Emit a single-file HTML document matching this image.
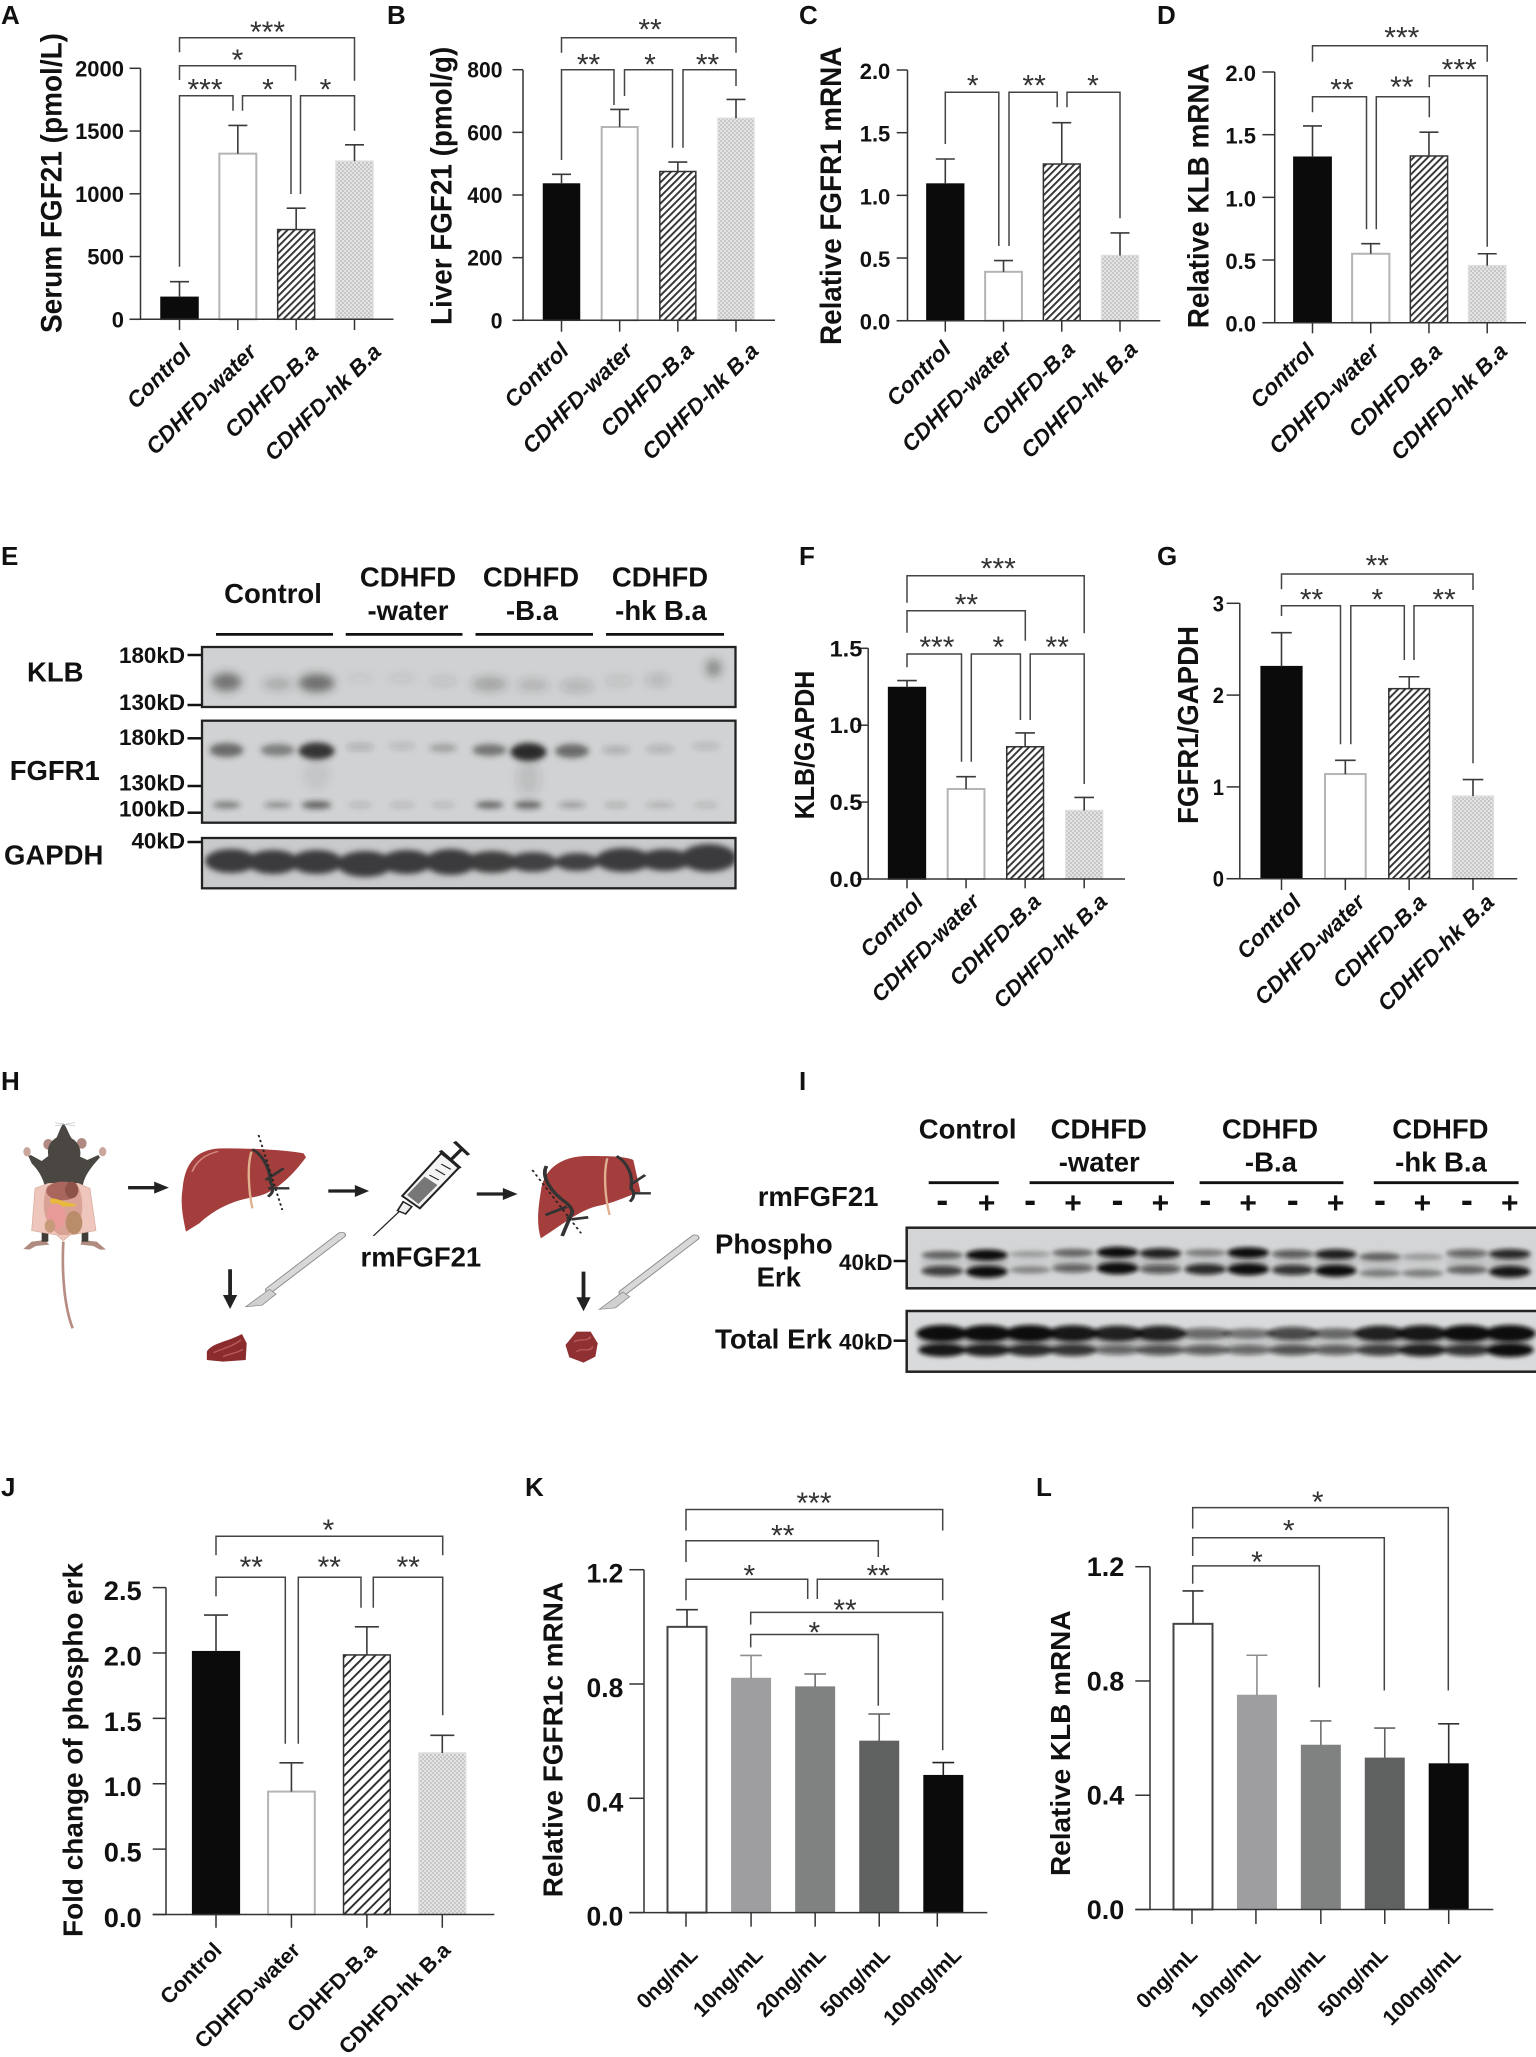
<!DOCTYPE html>
<html lang="en">
<head>
<meta charset="utf-8">
<title>FGF21 figure panels A-L</title>
<style>
html,body{margin:0;padding:0;background:#fff}
svg{display:block}
text{font-family:"Liberation Sans",Arial,sans-serif;fill:#111}
.b{font-weight:bold}
</style>
</head>
<body>
<svg id="figure" xmlns="http://www.w3.org/2000/svg" width="1536" height="2057" viewBox="0 0 1536 2057">
<defs>
<pattern id="hatch" patternUnits="userSpaceOnUse" width="5" height="5" patternTransform="rotate(-45)"><rect width="5" height="5" fill="#fff"/><rect width="5" height="1.9" fill="#333"/></pattern>
<pattern id="hatchWide" patternUnits="userSpaceOnUse" width="7" height="7" patternTransform="rotate(-45)"><rect width="7" height="7" fill="#fff"/><rect width="7" height="1.9" fill="#2a2a2a"/></pattern>
<pattern id="check" patternUnits="userSpaceOnUse" width="4" height="4"><rect width="4" height="4" fill="#e4e4e4"/><rect width="2" height="2" fill="#c6c6c6"/><rect x="2" y="2" width="2" height="2" fill="#c6c6c6"/></pattern>
<filter id="blurKlb" x="-5%" y="-60%" width="110%" height="220%"><feGaussianBlur stdDeviation="4.5"/></filter>
<filter id="blur" x="-5%" y="-60%" width="110%" height="220%"><feGaussianBlur stdDeviation="3"/></filter>
<filter id="blurSoft" x="-5%" y="-60%" width="110%" height="220%"><feGaussianBlur stdDeviation="2.2"/></filter>
<filter id="blurGapdh" x="-5%" y="-60%" width="110%" height="220%"><feGaussianBlur stdDeviation="2.8"/></filter>
<clipPath id="clipKlb"><rect x="202" y="647" width="533.5" height="60"/></clipPath>
<clipPath id="clipFgfr"><rect x="202" y="720.7" width="533.5" height="102"/></clipPath>
<clipPath id="clipGapdh"><rect x="202" y="838" width="533.5" height="50.3"/></clipPath>
<clipPath id="clipPerk"><rect x="906.7" y="1227.7" width="631.8" height="60.6"/></clipPath>
<clipPath id="clipTerk"><rect x="906.7" y="1311" width="631.8" height="60.7"/></clipPath>
</defs>

<g font-size="26">
<text class="b" x="1" y="24">A</text>
<text class="b" x="387" y="24">B</text>
<text class="b" x="799" y="24">C</text>
<text class="b" x="1157" y="24">D</text>
<text class="b" x="1" y="565">E</text>
<text class="b" x="799" y="565">F</text>
<text class="b" x="1157" y="565">G</text>
<text class="b" x="1" y="1090">H</text>
<text class="b" x="799" y="1090">I</text>
<text class="b" x="1" y="1496">J</text>
<text class="b" x="525" y="1496">K</text>
<text class="b" x="1036" y="1496">L</text>
</g>

<!-- Panel E western blot -->
<g id="panelE">
<g font-size="27.5" text-anchor="middle">
<text class="b" x="273" y="603">Control</text>
<text class="b" x="408" y="586.5">CDHFD</text>
<text class="b" x="408" y="620">-water</text>
<text class="b" x="531" y="586.5">CDHFD</text>
<text class="b" x="532" y="620">-B.a</text>
<text class="b" x="660" y="586.5">CDHFD</text>
<text class="b" x="661" y="620">-hk B.a</text>
</g>
<g stroke="#111" stroke-width="2.8">
<line x1="216" x2="333" y1="634.4" y2="634.4"/><line x1="345.7" x2="462.5" y1="634.4" y2="634.4"/><line x1="475.5" x2="593" y1="634.4" y2="634.4"/><line x1="606" x2="724" y1="634.4" y2="634.4"/>
</g>
<rect x="202" y="647" width="533.5" height="60" fill="#d0d1d2"/>
<g id="klbBands" clip-path="url(#clipKlb)"></g>
<rect x="202" y="647" width="533.5" height="60" fill="none" stroke="#222" stroke-width="2.3"/>
<rect x="202" y="720.7" width="533.5" height="102" fill="#d1d2d3"/>
<g id="fgfrBands" clip-path="url(#clipFgfr)"></g>
<rect x="202" y="720.7" width="533.5" height="102" fill="none" stroke="#222" stroke-width="2.3"/>
<rect x="202" y="838" width="533.5" height="50.3" fill="#c9cacb"/>
<g id="gapdhBands" clip-path="url(#clipGapdh)"></g>
<rect x="202" y="838" width="533.5" height="50.3" fill="none" stroke="#222" stroke-width="2.3"/>
<g font-size="22.4" text-anchor="end">
<text class="b" x="185" y="663">180kD</text>
<text class="b" x="185" y="710">130kD</text>
<text class="b" x="185" y="745">180kD</text>
<text class="b" x="185" y="790.7">130kD</text>
<text class="b" x="185" y="816.7">100kD</text>
<text class="b" x="185" y="848.3">40kD</text>
</g>
<g stroke="#111" stroke-width="2.5">
<line x1="187.5" x2="201" y1="655" y2="655"/><line x1="187.5" x2="201" y1="705" y2="705"/><line x1="187.5" x2="201" y1="738.3" y2="738.3"/><line x1="187.5" x2="201" y1="786" y2="786"/><line x1="187.5" x2="201" y1="812.7" y2="812.7"/><line x1="187.5" x2="201" y1="842" y2="842"/>
</g>
<g font-size="27.5">
<text class="b" x="27" y="681.7">KLB</text>
<text class="b" x="9.7" y="780">FGFR1</text>
<text class="b" x="4" y="864.3">GAPDH</text>
</g>
</g>

<!-- Panel H: mouse illustration -->
<g id="mouse" transform="translate(0,1100) scale(.3333)">
<path d="M190 425C185 520 193 620 218 685" fill="none" stroke="#b78c82" stroke-width="8"/>
<path d="M135 420L95 425L70 447L88 449L108 438L148 434Z" fill="#b08c80"/>
<path d="M245 420L290 425L318 449L300 449L280 438L242 434Z" fill="#b08c80"/>
<rect x="125" y="390" width="20" height="35" fill="#403c38"/><rect x="245" y="390" width="20" height="35" fill="#403c38"/>
<ellipse cx="145" cy="133" rx="15" ry="16" fill="#b08a82"/><ellipse cx="245" cy="130" rx="15" ry="16" fill="#b08a82"/>
<ellipse cx="81" cy="155" rx="11" ry="14" fill="#c9a79d"/><ellipse cx="308" cy="155" rx="11" ry="14" fill="#c9a79d"/>
<path d="M190 70C200 80 205 100 215 115C235 125 245 150 240 170L262 180L295 165L300 172L280 195C265 215 250 235 248 262L135 262C130 235 115 210 95 190L85 168L92 165L125 183L145 168C140 140 150 125 170 112C178 95 182 80 190 70Z" fill="#4a4743"/>
<path d="M165 68L225 78M225 68L165 78" stroke="#aaa" stroke-width="1.5"/>
<path d="M105 265L145 250L235 250L270 265L288 392L210 405L190 422L170 405L95 392Z" fill="#eec6bb" stroke="#d8a99c" stroke-width="2"/>
<path d="M140 260C170 240 220 240 238 265C255 320 250 370 205 405L178 405C125 370 125 310 140 260Z" fill="#d9a295"/>
<ellipse cx="187" cy="273" rx="48" ry="28" fill="#a8665c"/><ellipse cx="215" cy="270" rx="20" ry="25" fill="#8d5348"/>
<path d="M150 298C165 290 180 305 225 312L230 318C190 322 150 320 150 298Z" fill="#e9b93c"/>
<ellipse cx="168" cy="350" rx="28" ry="40" fill="#e79a98"/><ellipse cx="222" cy="368" rx="25" ry="35" fill="#b98d6a"/><ellipse cx="150" cy="378" rx="16" ry="20" fill="#c79a7c"/>
</g>

<!-- Panel H schematic, drawn in a stretched local space -->
<g id="panelH" transform="translate(0,1060) scale(.4744,.3333)">
<g fill="#222" stroke="none">
<path d="M270 378H325V365L356 383L325 401V388H270Z"/><path d="M692 388H748V375L778 393L748 411V398H692Z"/><path d="M1005 397H1060V384L1091 402L1060 420V407H1005Z"/>
<path d="M481 628H489V705H500L485 747L470 705H481Z"/><path d="M1226 635H1234V712H1245L1230 754L1215 712H1226Z"/>
</g>
<g>
<path d="M385 385C390 300 420 265 470 265C540 265 600 270 640 280L645 292C630 320 590 395 540 410C490 420 450 450 420 490L392 515C385 470 380 430 385 385Z" fill="#a33e3c"/>
<path d="M405 335C415 300 435 282 460 274" fill="none" stroke="#d58a80" stroke-width="4"/>
<path d="M530 275C520 320 525 400 532 445" fill="none" stroke="#e0b090" stroke-width="5"/>
<path d="M532 268C555 285 570 330 570 365C575 380 580 395 565 410M560 360L598 325M565 385L610 385" fill="none" stroke="#333" stroke-width="7"/>
<path d="M545 225L595 450" fill="none" stroke="#222" stroke-width="4" stroke-dasharray="7 8"/>
</g>
<g>
<path d="M787 528L845 450" fill="none" stroke="#222" stroke-width="3"/>
<path d="M838 452L850 425L868 440L855 462Z" fill="#eee" stroke="#222" stroke-width="4"/>
<path d="M848 408L930 280L968 322L885 445Z" fill="#f4f4f4" stroke="#222" stroke-width="5"/>
<path d="M858 405L895 350L922 375L882 432Z" fill="#777"/>
<path d="M905 345L925 360M918 328L938 345M930 312L950 328" stroke="#222" stroke-width="3"/>
<path d="M950 300L975 265M958 245L988 285M928 272L970 325" fill="none" stroke="#222" stroke-width="8"/>
</g>
<g>
<path d="M1140 395C1145 330 1180 288 1240 288C1290 288 1320 290 1335 300L1350 395C1320 410 1300 425 1270 435C1225 445 1190 490 1140 535C1130 490 1135 440 1140 395Z" fill="#a33e3c"/>
<path d="M1280 295C1272 340 1275 410 1285 465" fill="none" stroke="#e0b090" stroke-width="5"/>
<path d="M1300 288C1325 310 1335 350 1330 385C1340 400 1335 415 1328 425M1328 375L1360 345M1335 400L1372 400" fill="none" stroke="#333" stroke-width="7"/>
<path d="M1152 318C1140 350 1160 395 1195 430C1210 450 1210 465 1195 475M1150 465L1195 440M1185 528L1205 460M1205 478L1240 472" fill="none" stroke="#333" stroke-width="8"/>
<path d="M1122 330L1225 520" fill="none" stroke="#222" stroke-width="4" stroke-dasharray="7 8"/>
</g>
<g>
<path d="M720 525L568 690" stroke="#8d8d8d" stroke-width="19" stroke-linecap="round"/>
<path d="M720 525L568 690" stroke="#d8d8d8" stroke-width="14" stroke-linecap="round"/>
<path d="M568 688L518 740L552 736L582 702Z" fill="#d0d0d0" stroke="#888" stroke-width="2"/>
</g>
<g>
<path d="M1465 533L1313 698" stroke="#8d8d8d" stroke-width="19" stroke-linecap="round"/>
<path d="M1465 533L1313 698" stroke="#d8d8d8" stroke-width="14" stroke-linecap="round"/>
<path d="M1313 696L1263 748L1297 744L1327 710Z" fill="#d0d0d0" stroke="#888" stroke-width="2"/>
</g>
<g>
<path d="M436 875C445 850 480 845 510 822L520 850L518 900L470 905L436 900Z" fill="#8a2b2e"/>
<path d="M450 878C470 865 490 860 508 840M470 890C485 880 500 880 512 868" fill="none" stroke="#b85a58" stroke-width="4"/>
</g>
<g>
<path d="M1192 855L1215 815L1245 815L1260 850L1255 890L1230 908L1200 892Z" fill="#8f3033"/>
<path d="M1210 845C1225 835 1240 845 1245 830M1215 875C1230 860 1240 880 1250 860" fill="none" stroke="#b85a58" stroke-width="4"/>
</g>
</g>
<text class="b" x="360.5" y="1266.7" font-size="27.5">rmFGF21</text>

<!-- Panel I western blot -->
<g id="panelI">
<g font-size="27.5" text-anchor="middle">
<text class="b" x="967.6" y="1138.3">Control</text>
<text class="b" x="1098.8" y="1138.3">CDHFD</text>
<text class="b" x="1099.2" y="1171.7">-water</text>
<text class="b" x="1270" y="1138.3">CDHFD</text>
<text class="b" x="1270.9" y="1171.7">-B.a</text>
<text class="b" x="1440.4" y="1138.3">CDHFD</text>
<text class="b" x="1441" y="1171.7">-hk B.a</text>
</g>
<g stroke="#111" stroke-width="2.8">
<line x1="928.7" x2="998.8" y1="1182.7" y2="1182.7"/><line x1="1029.6" x2="1174" y1="1182.7" y2="1182.7"/><line x1="1199.6" x2="1343.4" y1="1182.7" y2="1182.7"/><line x1="1373.8" x2="1518.6" y1="1182.7" y2="1182.7"/>
</g>
<text class="b" x="757.7" y="1206" font-size="27.5">rmFGF21</text>
<g id="signs"></g>
<rect x="906.7" y="1227.7" width="631.8" height="60.6" fill="#d4d5d6"/>
<g id="perkBands" clip-path="url(#clipPerk)"></g>
<rect x="906.7" y="1227.7" width="631.8" height="60.6" fill="none" stroke="#222" stroke-width="2.5"/>
<rect x="906.7" y="1311" width="631.8" height="60.7" fill="#d9dadb"/>
<g id="terkBands" clip-path="url(#clipTerk)"></g>
<rect x="906.7" y="1311" width="631.8" height="60.7" fill="none" stroke="#222" stroke-width="2.5"/>
<g font-size="27.5">
<text class="b" x="715" y="1253.3">Phospho</text>
<text class="b" x="756.6" y="1286.7">Erk</text>
<text class="b" x="715" y="1348.3" textLength="117" lengthAdjust="spacingAndGlyphs">Total Erk</text>
</g>
<g font-size="22.4">
<text class="b" x="839" y="1270">40kD</text>
<text class="b" x="839" y="1349.3">40kD</text>
</g>
<g stroke="#111" stroke-width="2.5">
<line x1="893.6" x2="906" y1="1261" y2="1261"/><line x1="893.6" x2="906" y1="1340.7" y2="1340.7"/>
</g>
</g>

<g id="charts"></g>
</svg>

<script>
// ---------- Chart data ----------
const groupCategories = ['Control', 'CDHFD-water', 'CDHFD-B.a', 'CDHFD-hk B.a'];
const doseCategories = ['0ng/mL', '10ng/mL', '20ng/mL', '50ng/mL', '100ng/mL'];

const serumValues = [175, 1320, 715, 1260];
const serumErrorTops = [300, 1545, 885, 1390];
const serumTickLabels = ['2000', '1500', '1000', '500', '0'];

const liverValues = [435, 617, 475, 645];
const liverErrorTops = [466, 673, 505, 705];
const liverTickLabels = ['800', '600', '400', '200', '0'];

const fgfr1Values = [1.09, 0.39, 1.25, 0.52];
const fgfr1ErrorTops = [1.29, 0.48, 1.58, 0.70];
const fgfr1TickLabels = ['2.0', '1.5', '1.0', '0.5', '0.0'];

const klbValues = [1.32, 0.55, 1.33, 0.455];
const klbErrorTops = [1.57, 0.63, 1.52, 0.55];
const klbTickLabels = ['2.0', '1.5', '1.0', '0.5', '0.0'];

const klbGapdhValues = [1.245, 0.585, 0.86, 0.445];
const klbGapdhErrorTops = [1.29, 0.665, 0.95, 0.53];
const klbGapdhTickLabels = ['1.5', '1.0', '0.5', '0.0'];

const fgfr1GapdhValues = [2.31, 1.14, 2.07, 0.90];
const fgfr1GapdhErrorTops = [2.68, 1.29, 2.20, 1.08];
const fgfr1GapdhTickLabels = ['3', '2', '1', '0'];

const phosphoValues = [2.01, 0.94, 1.985, 1.235];
const phosphoErrorTops = [2.29, 1.16, 2.20, 1.37];
const phosphoTickLabels = ['2.5', '2.0', '1.5', '1.0', '0.5', '0.0'];

const doseFgfrValues = [1.0, 0.82, 0.79, 0.60, 0.48];
const doseFgfrErrorTops = [1.06, 0.90, 0.835, 0.695, 0.525];
const doseFgfrTickLabels = ['1.2', '0.8', '0.4', '0.0'];

const doseKlbValues = [1.0, 0.75, 0.575, 0.53, 0.51];
const doseKlbErrorTops = [1.115, 0.89, 0.66, 0.635, 0.65];
const doseKlbTickLabels = ['1.2', '0.8', '0.4', '0.0'];

// ---------- Helpers ----------
const NS = 'http://www.w3.org/2000/svg';
const chartsRoot = document.getElementById('charts');
function mk(tag, attrs, parent) {
  const el = document.createElementNS(NS, tag);
  for (const k in attrs) el.setAttribute(k, attrs[k]);
  parent.appendChild(el);
  return el;
}
function digitsWidth(s) {
  let w = 0;
  for (const c of s) w += c === '.' ? 0.278 : 0.556;
  return w;
}
const groupStyles = [
  {fill: '#0b0b0b', stroke: '#0b0b0b', sw: 1.5},
  {fill: '#ffffff', stroke: '#b4b4b4', sw: 2},
  {fill: 'url(#hatch)', stroke: '#333', sw: 1.5},
  {fill: 'url(#check)', stroke: '#dedede', sw: 1.5}
];
const groupStylesWide = [groupStyles[0], groupStyles[1], {fill: 'url(#hatchWide)', stroke: '#333', sw: 1.5}, groupStyles[3]];
const doseStyles = [
  {fill: '#ffffff', stroke: '#444', sw: 2},
  {fill: '#9e9ea1', stroke: '#9e9ea1', sw: 1},
  {fill: '#808281', stroke: '#808281', sw: 1},
  {fill: '#606261', stroke: '#606261', sw: 1},
  {fill: '#0b0b0b', stroke: '#0b0b0b', sw: 1}
];

function drawChart(c) {
  const g = mk('g', {}, chartsRoot);
  
  
  const maxV = parseFloat(c.tickLabels[0]);
  const yScale = v => c.y0 - (v / maxV) * (c.y0 - c.yTop);
  const n = c.values.length;
  const xScale = i => c.first + i * (c.last - c.first) / (n - 1);

  // bars and error bars
  c.values.forEach((v, i) => {
    const st = c.styles[i];
    const top = yScale(v);
    const bar = mk('rect', {x: xScale(i) - c.barW / 2, y: top, width: c.barW, height: c.y0 - top, fill: st.fill, stroke: st.stroke, 'stroke-width': st.sw}, g);
    
    
    const errColor = c.errColors ? c.errColors[i] : '#3a3a3a';
    const et = yScale(c.errorTops[i]);
    const stem = mk('line', {x1: xScale(i), x2: xScale(i), y1: top, y2: et, stroke: errColor, 'stroke-width': 1.6}, g);
    
    
    const cap = mk('line', {x1: xScale(i) - c.capW / 2, x2: xScale(i) + c.capW / 2, y1: et, y2: et, stroke: errColor, 'stroke-width': 1.6}, g);
    
    
    const tx = xScale(i) + (c.tickShift ? c.tickShift[i] : 0);
    const xt = mk('line', {x1: tx, x2: tx, y1: c.y0, y2: c.tickBottom, stroke: '#333', 'stroke-width': 1.5}, g);
    
    
    const lab = mk('text', {transform: 'translate(' + (tx + c.catDx[i]) + ',' + (c.y0 + c.catDy) + ') rotate(-45)', 'text-anchor': 'end', 'font-size': c.catSize, 'font-weight': 'bold', 'font-style': c.catItalic ? 'italic' : 'normal'}, g);
    lab.textContent = c.categories[i];
    
    
  });

  // axes
  const yAxis = mk('line', {x1: c.axisX, x2: c.axisX, y1: c.yTop, y2: c.y0, stroke: '#333', 'stroke-width': 1.5}, g);
  
  
  const xAxis = mk('line', {x1: c.tickLeft, x2: c.axisEnd, y1: c.y0, y2: c.y0, stroke: '#333', 'stroke-width': 1.5}, g);
  
  
  c.tickLabels.forEach(s => {
    const ty = yScale(parseFloat(s));
    const t = mk('line', {x1: c.tickLeft, x2: c.axisX, y1: ty, y2: ty, stroke: '#333', 'stroke-width': 1.5}, g);
    
    
    const l = mk('text', {x: c.labelRight, y: ty + c.tickDy, 'text-anchor': 'end', 'font-size': c.tickSize, 'font-weight': 'bold', textLength: digitsWidth(s) * c.tickSize * c.stretch, lengthAdjust: 'spacingAndGlyphs'}, g);
    l.textContent = s;
    
    
  });

  // axis title
  const title = mk('text', {transform: 'translate(' + c.titleBase + ',' + (c.titleFrom + c.titleTo) / 2 + ') rotate(-90)', 'text-anchor': 'middle', 'font-size': c.titleSize, 'font-weight': 'bold', textLength: c.titleFrom - c.titleTo, lengthAdjust: 'spacingAndGlyphs'}, g);
  title.textContent = c.title;
  
  

  // significance annotations: x1, x2, top, left end, right end, label, label x, label y
  c.brackets.forEach(b => {
    const p = mk('path', {d: 'M' + b[0] + ' ' + b[3] + 'V' + b[2] + 'H' + b[1] + 'V' + b[4], fill: 'none', stroke: '#444', 'stroke-width': 1.5}, g);
    
    
    const s = mk('text', {x: b[6], y: b[7] + 17, 'text-anchor': 'middle', 'font-size': 30, style: 'fill:#333'}, g);
    s.textContent = b[5];
    
    
  });
}

// ---------- Charts ----------
drawChart({id: 'serum-fgf21', categories: groupCategories, values: serumValues, errorTops: serumErrorTops, tickLabels: serumTickLabels, styles: groupStyles,
  axisX: 140.5, tickLeft: 129.5, y0: 319.3, yTop: 68.3, first: 179.5, last: 354.5, barW: 37, capW: 19, axisEnd: 393.5, tickBottom: 330,
  labelRight: 124, tickSize: 22, stretch: 1, tickDy: 8, title: 'Serum FGF21 (pmol/L)', titleBase: 61.5, titleSize: 30, titleFrom: 333, titleTo: 33,
  catDx: [13, 20, 23.5, 28], catDy: 34, catSize: 22.5, catItalic: true,
  brackets: [[179.5, 354.5, 37.7, 52.3, 80.7, '***', 267.5, 25], [179.5, 295.5, 65.7, 80, 80.7, '*', 237.5, 53], [179.5, 233, 95.7, 266.7, 110.7, '***', 205, 82.7], [242.5, 291, 95.7, 110.7, 194, '*', 268, 82.7], [300.5, 354.5, 95.7, 194, 130.7, '*', 325.5, 82.7]]});

drawChart({id: 'liver-fgf21', categories: groupCategories, values: liverValues, errorTops: liverErrorTops, tickLabels: liverTickLabels, styles: groupStyles,
  axisX: 523, tickLeft: 512.5, y0: 320.3, yTop: 69.7, first: 561.5, last: 736, barW: 36, capW: 19, axisEnd: 775, tickBottom: 331.7,
  labelRight: 502.5, tickSize: 22, stretch: 0.96, tickDy: 8, title: 'Liver FGF21 (pmol/g)', titleBase: 451.5, titleSize: 30, titleFrom: 325, titleTo: 46.7,
  catDx: [8.5, 14.5, 17.5, 24], catDy: 32, catSize: 22.5, catItalic: true,
  brackets: [[561.5, 736, 37.7, 52.7, 52.7, '**', 650, 22.7], [561.5, 614, 69.7, 160, 105, '**', 588.5, 57.3], [624.5, 672.5, 69.7, 96, 147.7, '*', 650, 57.3], [683, 736, 69.7, 147.7, 86, '**', 707.5, 57.3]]});

drawChart({id: 'relative-fgfr1', categories: groupCategories, values: fgfr1Values, errorTops: fgfr1ErrorTops, tickLabels: fgfr1TickLabels, styles: groupStyles,
  axisX: 907.5, tickLeft: 896.7, y0: 320.7, yTop: 70, first: 945.3, last: 1120, barW: 36.8, capW: 19, axisEnd: 1160.3, tickBottom: 331.7,
  labelRight: 890.3, tickSize: 22, stretch: 1, tickDy: 9, title: 'Relative FGFR1 mRNA', titleBase: 841.2, titleSize: 30, titleFrom: 345, titleTo: 46.7,
  catDx: [7, 10, 14.7, 19], catDy: 30, catSize: 22.5, catItalic: true,
  brackets: [[945.3, 998.8, 92.3, 144, 246, '*', 972.7, 78.3], [1009, 1057.2, 92.3, 246, 107.3, '**', 1034.1, 78.3], [1067, 1120, 92.3, 107.3, 218.3, '*', 1093, 78.3]]});

drawChart({id: 'relative-klb', categories: groupCategories, values: klbValues, errorTops: klbErrorTops, tickLabels: klbTickLabels, styles: groupStyles,
  axisX: 1274.7, tickLeft: 1262.4, y0: 322.7, yTop: 72, first: 1312.5, last: 1487.2, barW: 37.3, capW: 19, axisEnd: 1526, tickBottom: 333.3,
  labelRight: 1256, tickSize: 22, stretch: 1, tickDy: 9, title: 'Relative KLB mRNA', titleBase: 1208.4, titleSize: 30, titleFrom: 328.3, titleTo: 63.3,
  catDx: [3.5, 10, 14.5, 21.5], catDy: 30, catSize: 22.5, catItalic: true,
  brackets: [[1312.5, 1487.2, 45.7, 61.7, 61.7, '***', 1401.8, 30.7], [1312.5, 1366.5, 96.7, 112.3, 229.3, '**', 1341.9, 82.7], [1376.3, 1429.3, 96.7, 229.3, 117.3, '**', 1401.8, 80], [1429.3, 1487.2, 75.7, 87.3, 246.7, '***', 1459.2, 62.7]]});

drawChart({id: 'klb-gapdh', categories: groupCategories, values: klbGapdhValues, errorTops: klbGapdhErrorTops, tickLabels: klbGapdhTickLabels, styles: groupStyles,
  axisX: 868.2, tickLeft: 857.4, y0: 879, yTop: 648.3, first: 907, last: 1084.2, barW: 36.8, capW: 19.6, axisEnd: 1125, tickBottom: 888.3,
  labelRight: 862.3, tickSize: 22, stretch: 1.07, tickDy: 8, title: 'KLB/GAPDH', titleBase: 814.2, titleSize: 28, titleFrom: 819.3, titleTo: 670.7,
  catDx: [17.6, 14.7, 17.2, 24.5], catDy: 24, catSize: 22, catItalic: true,
  brackets: [[907, 1084.2, 575.7, 602.7, 633.3, '***', 998.3, 561.7], [907, 1025.3, 610.7, 632.7, 640.7, '**', 966.4, 597.7], [907, 961.5, 654, 667.3, 761.7, '***', 936.9, 640], [971.3, 1020.4, 654, 761.7, 720, '*', 998.3, 640], [1030.2, 1084.2, 654, 720, 784, '**', 1057.2, 640]]});

drawChart({id: 'fgfr1-gapdh', categories: groupCategories, values: fgfr1GapdhValues, errorTops: fgfr1GapdhErrorTops, tickLabels: fgfr1GapdhTickLabels, styles: groupStyles,
  axisX: 1239.8, tickLeft: 1226.6, y0: 878.7, yTop: 603.3, first: 1281.5, last: 1473, barW: 40.7, capW: 20.6, axisEnd: 1517.2, tickBottom: 890,
  labelRight: 1224, tickSize: 22, stretch: 0.92, tickDy: 8, title: 'FGFR1/GAPDH', titleBase: 1198, titleSize: 29, titleFrom: 824, titleTo: 626,
  catDx: [21, 21, 18.6, 22.6], catDy: 25, catSize: 22.5, catItalic: true,
  brackets: [[1281.5, 1473, 574, 589.3, 590, '**', 1377.3, 558.3], [1281.5, 1340.5, 605.7, 616, 744.3, '**', 1311.5, 592.3], [1350.8, 1404.3, 605.7, 744.3, 660, '*', 1377.3, 592.3], [1414, 1473, 605.7, 660, 763.3, '**', 1444, 592.3]]});

drawChart({id: 'phospho-erk-fold-change', categories: groupCategories, values: phosphoValues, errorTops: phosphoErrorTops, tickLabels: phosphoTickLabels, styles: groupStylesWide,
  axisX: 166, tickLeft: 152.7, y0: 1914.5, yTop: 1587.6, first: 216, last: 442.3, barW: 46.7, capW: 24, axisEnd: 494.3, tickBottom: 1927.8,
  labelRight: 141.7, tickSize: 27, stretch: 1.01, tickDy: 12.5, title: 'Fold change of phospho erk', titleBase: 82.7, titleSize: 28, titleFrom: 1937, titleTo: 1562.9,
  catDx: [7, 10, 11, 9.4], catDy: 37, catSize: 21.5, catItalic: false,
  brackets: [[216, 442.7, 1536.2, 1555.2, 1555.2, '*', 328.3, 1522.9], [216, 285.3, 1577.3, 1596.4, 1743.8, '**', 251.3, 1559.8], [298.3, 361, 1577.3, 1743.8, 1607.8, '**', 329.3, 1559.8], [373.3, 442.7, 1577.3, 1607.8, 1715.2, '**', 408.3, 1559.8]]});

drawChart({id: 'dose-fgfr1c', categories: doseCategories, values: doseFgfrValues, errorTops: doseFgfrErrorTops, tickLabels: doseFgfrTickLabels, styles: doseStyles,
  errColors: ['#333', '#8e8e90', '#6e706f', '#606261', '#222'], tickShift: [-1, 0, 0, 0, -6],
  axisX: 644, tickLeft: 629.3, y0: 1912.6, yTop: 1569.7, first: 687, last: 943.3, barW: 39, capW: 21.7, axisEnd: 987.3, tickBottom: 1926.7,
  labelRight: 623.3, tickSize: 27, stretch: 0.98, tickDy: 13, title: 'Relative FGFR1c mRNA', titleBase: 562.7, titleSize: 28, titleFrom: 1897.3, titleTo: 1581.9,
  catDx: [13, 13, 12, 12, 25.3], catDy: 43.6, catSize: 21.4, catItalic: false,
  brackets: [[686, 942.7, 1509.5, 1530.5, 1530.5, '***', 814, 1496.2], [686, 878.3, 1540.8, 1562, 1557, '**', 782.7, 1528.6], [686, 807.7, 1579.2, 1600.2, 1599, '*', 749.3, 1568.6], [817.3, 942.7, 1579.2, 1599, 1600.2, '**', 878.3, 1568.6], [750.7, 942.7, 1612.4, 1624.6, 1750.3, '**', 845, 1602.9], [750.7, 878.3, 1634.5, 1647.4, 1705.7, '*', 814.3, 1625.7]]});

drawChart({id: 'dose-klb', categories: doseCategories, values: doseKlbValues, errorTops: doseKlbErrorTops, tickLabels: doseKlbTickLabels, styles: doseStyles,
  errColors: ['#333', '#8e8e90', '#6e706f', '#606261', '#333'], tickShift: [-1, -1, 0, 0, 0],
  axisX: 1150, tickLeft: 1135.3, y0: 1909.5, yTop: 1566.7, first: 1193, last: 1448.7, barW: 39, capW: 21, axisEnd: 1493.3, tickBottom: 1924,
  labelRight: 1124.3, tickSize: 27, stretch: 1, tickDy: 9.5, title: 'Relative KLB mRNA', titleBase: 1070, titleSize: 28, titleFrom: 1876, titleTo: 1610.5,
  catDx: [6.7, 6, 5.7, 4.4, 13.3], catDy: 46.5, catSize: 21.4, catItalic: false,
  brackets: [[1192.7, 1448.3, 1507.6, 1528.6, 1690.5, '*', 1317.7, 1495], [1192.7, 1384.3, 1537.7, 1556, 1690.5, '*', 1288.7, 1523.6], [1192.7, 1319.3, 1565.9, 1583.8, 1687.4, '*', 1257, 1555.2]]});

// ---------- Blot images (photographic content, approximated with soft bands) ----------
function drawBands(id, xs, ys, rxs, rys, ops, filter, color) {
  const host = document.getElementById(id);
  const holder = mk('g', {filter: 'url(#' + filter + ')', fill: color}, host);
  
  
  xs.forEach((x, i) => {
    const e = mk('ellipse', {cx: x, cy: Array.isArray(ys) ? ys[i] : ys, rx: Array.isArray(rxs) ? rxs[i] : rxs, ry: Array.isArray(rys) ? rys[i] : rys, opacity: ops[i]}, holder);
    
    
  });
}
const lanesE = [226.5, 277.6, 316.6, 360, 402, 443, 489.5, 533, 577, 618.6, 657.6, 713.6];
drawBands('klbBands', lanesE, [682, 684, 683, 678, 678, 681, 684, 685, 686, 681, 680, 668], [15, 15, 18, 14, 14, 14, 18, 16, 17, 14, 12, 8], [9, 6, 9, 3.5, 3.5, 4, 7, 6, 6, 4.5, 6, 9], [.6, .25, .62, .07, .09, .12, .28, .2, .18, .12, .16, .42], 'blurKlb', '#333');
drawBands('fgfrBands', [316.6, 528.5], [775, 778], [14, 12], [15, 18], [.06, .12], 'blurKlb', '#333');
drawBands('fgfrBands', [226.5, 277.6, 316.6, 360, 402, 443, 489.5, 528.5, 572, 616, 660, 706], [750, 750, 751, 747, 746, 748, 750, 752, 751, 750, 749, 746], [17, 17, 18, 14, 13, 14, 17, 18, 17, 14, 14, 14], [7, 6, 8.5, 3.5, 3.5, 4, 6, 9, 7, 4, 4, 3.5], [.6, .5, .95, .2, .15, .3, .55, 1, .6, .2, .18, .15], 'blur', '#2a2a2a');
drawBands('fgfrBands', [226.5, 277.6, 316.6, 360, 402, 443, 489.5, 528, 572, 616, 660, 706], 805, [14, 14, 15, 12, 13, 12, 14, 14, 14, 12, 14, 12], [3.5, 3, 4, 2.5, 2.5, 2.5, 3.5, 4, 3, 2.5, 2.5, 2.5], [.5, .4, .65, .17, .17, .17, .65, .6, .33, .22, .25, .17], 'blur', '#2a2a2a');
drawBands('gapdhBands', [231, 273, 316.6, 365, 406.7, 450.6, 492, 533, 577, 623.5, 665, 708.7], [861, 862, 862, 864, 862, 862, 862, 862, 862, 860, 860, 858], [26, 26, 26, 28, 26, 26, 26, 24, 22, 28, 26, 28], [12, 12, 12, 13, 12, 13, 11, 10, 9, 12, 11, 14], [1, 1, 1, 1, 1, 1, .98, .95, .95, 1, 1, 1], 'blurGapdh', '#3a3a3c');

const lanesI = [942.3, 986.7, 1030.1, 1073, 1117.5, 1160.4, 1205.4, 1248.2, 1292.7, 1335.6, 1380, 1422.4, 1466.9, 1509.8];
const perkUpperY = [1255, 1255, 1254, 1252.7, 1252.3, 1253.3, 1252.7, 1252.7, 1254, 1254.3, 1256.7, 1256.7, 1253.3, 1254];
const perkLowerY = [1271, 1271.7, 1270, 1268.3, 1268.3, 1269.3, 1269.3, 1269.3, 1270, 1270.7, 1273.3, 1273.3, 1270, 1271.7];
const perkUpper = [.5, 1, .25, .5, 1, .9, .4, 1, .6, .9, .5, .25, .55, .85];
const perkLower = [.75, 1, .35, .55, 1, .6, .85, 1, .8, 1, .4, .4, .5, .95];
drawBands('perkBands', lanesI, 1262, 21, 9, perkUpper.map(v => v * .18), 'blur', '#222');
drawBands('perkBands', lanesI, perkUpperY, 21, perkUpper.map(v => 2.5 + v * 3), perkUpper, 'blurSoft', '#0c0c0c');
drawBands('perkBands', lanesI, perkLowerY, 21, perkLower.map(v => 2.5 + v * 3.5), perkLower, 'blurSoft', '#0c0c0c');
const terkUpper = [1, 1, 1, .95, .9, .9, .55, .45, .7, .5, .9, .95, 1, 1];
const terkLower = [.95, .9, .85, .8, .55, .65, .6, .55, .65, .6, .75, .9, .8, 1];
drawBands('terkBands', lanesI, 1342, 24, 8, terkUpper.map(v => v * .2), 'blur', '#222');
drawBands('terkBands', lanesI, 1333.5, 26, terkUpper.map(v => 2.5 + v * 6), terkUpper, 'blurSoft', '#0c0c0c');
drawBands('terkBands', lanesI, 1350, 24, terkLower.map(v => 2.5 + v * 4.5), terkLower, 'blurSoft', '#0c0c0c');

const signHost = document.getElementById('signs');
lanesI.forEach((x, i) => {
  const plus = i % 2 === 1;
  const s = mk('text', {x: x, y: plus ? 1213 : 1212, 'text-anchor': 'middle', 'font-size': plus ? 30 : 36, 'font-weight': 'bold'}, signHost);
  s.textContent = plus ? '+' : '-';
  
  
});
</script>
</body>
</html>
